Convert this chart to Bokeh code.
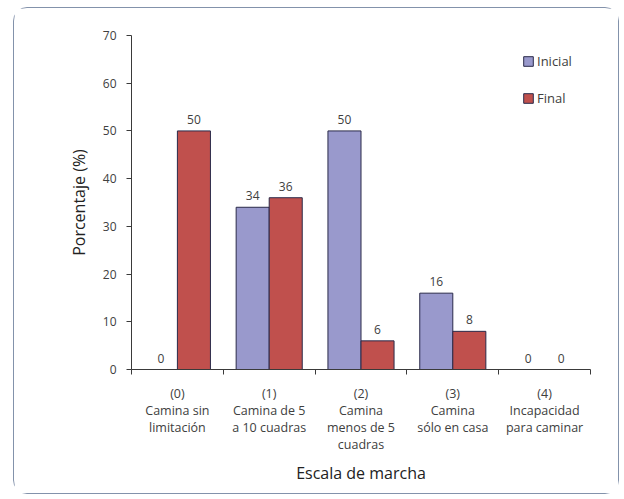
from bokeh.plotting import figure
from bokeh.models import ColumnDataSource, FixedTicker, Legend, LegendItem, Range1d, LabelSet
from bokeh.core.properties import value
from bokeh.embed import file_html
from bokeh.resources import INLINE

# Walking-scale categories (multi-line tick labels)
categories = [
    "(0)\nCamina sin\nlimitación",
    "(1)\nCamina de 5\na 10 cuadras",
    "(2)\nCamina\nmenos de 5\ncuadras",
    "(3)\nCamina\nsólo en casa",
    "(4)\nIncapacidad\npara caminar",
]
inicial = [0, 34, 50, 16, 0]
final = [50, 36, 6, 8, 0]
y_ticks = [0, 10, 20, 30, 40, 50, 60, 70]

FONT = "Open Sans"
TXT = "#404040"
AXIS = "#3a3a3a"
C_INI = "#9999cc"
C_FIN = "#c0504d"
BAR_W = 0.36

centers = [i + 0.5 for i in range(len(categories))]
bounds = list(range(len(categories) + 1))

src = ColumnDataSource(dict(
    x_ini=[c - BAR_W / 2 for c in centers],
    x_fin=[c + BAR_W / 2 for c in centers],
    inicial=inicial,
    final=final,
    t_ini=[str(v) for v in inicial],
    t_fin=[str(v) for v in final],
))

p = figure(
    width=606, height=487,
    x_range=Range1d(0, len(categories)),
    y_range=Range1d(0, 70),
    output_backend="svg", toolbar_location=None,
    min_border_left=117, min_border_right=30,
    min_border_top=27, min_border_bottom=126,
)
p.styles = {
    "margin-left": "13px", "margin-top": "7px",
    "border": "1px solid #8392ab", "border-radius": "14px",
}
p.outline_line_color = None
p.grid.grid_line_color = None

r_ini = p.vbar(x="x_ini", top="inicial", width=BAR_W, source=src,
               fill_color=C_INI, line_color="#2a2a4a", line_width=1)
r_fin = p.vbar(x="x_fin", top="final", width=BAR_W, source=src,
               fill_color=C_FIN, line_color="#2a2a4a", line_width=1)

for xcol, ycol, tcol in (("x_ini", "inicial", "t_ini"), ("x_fin", "final", "t_fin")):
    p.add_layout(LabelSet(x=xcol, y=ycol, text=tcol, source=src,
                          text_align="center", text_baseline="bottom",
                          y_offset=7, text_font=value(FONT), text_font_size="12px",
                          text_color=TXT))

# y axis
ya = p.yaxis[0]
ya.ticker = FixedTicker(ticks=y_ticks)
ya.major_tick_in = 0
ya.major_tick_out = 5
ya.minor_tick_line_color = None
ya.axis_line_color = AXIS
ya.major_tick_line_color = AXIS
ya.major_label_text_font = FONT
ya.major_label_text_font_size = "12px"
ya.major_label_text_color = TXT
ya.major_label_standoff = 10
ya.axis_label = "Porcentaje (%)"
ya.axis_label_text_font = FONT
ya.axis_label_text_font_size = "16px"
ya.axis_label_text_font_style = "normal"
ya.axis_label_text_color = "#222222"
ya.axis_label_standoff = 10

# x axis: labels at category centres, tick marks at category boundaries
xa = p.xaxis[0]
xa.ticker = FixedTicker(ticks=centers, minor_ticks=bounds)
xa.major_label_overrides = {c: lab for c, lab in zip(centers, categories)}
xa.major_tick_line_color = None
xa.major_tick_in = 0
xa.major_tick_out = 0
xa.minor_tick_in = 0
xa.minor_tick_out = 5
xa.minor_tick_line_color = AXIS
xa.axis_line_color = AXIS
xa.major_label_text_font = FONT
xa.major_label_text_font_size = "12.5px"
xa.major_label_text_line_height = 1.0
xa.major_label_text_color = TXT
xa.major_label_standoff = 10
xa.axis_label = "Escala de marcha"
xa.axis_label_text_font = FONT
xa.axis_label_text_font_size = "16px"
xa.axis_label_text_font_style = "normal"
xa.axis_label_text_color = "#222222"
xa.axis_label_standoff = 6

legend = Legend(
    items=[LegendItem(label="Inicial", renderers=[r_ini]),
           LegendItem(label="Final", renderers=[r_fin])],
    location=(391, 262), padding=0, margin=0, spacing=19,
    glyph_width=12, glyph_height=12, label_height=12, label_standoff=3,
    label_text_font=FONT, label_text_font_size="13px", label_text_color=TXT,
    border_line_color=None, background_fill_alpha=0,
)
p.add_layout(legend)

open("out.html", "w").write(file_html(p, INLINE))
